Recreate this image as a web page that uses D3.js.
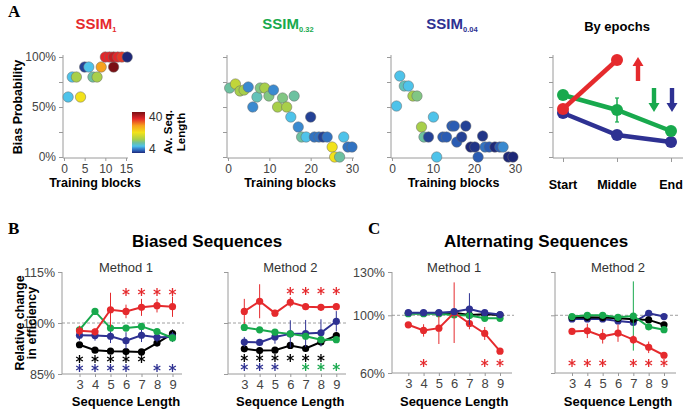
<!DOCTYPE html>
<html><head><meta charset="utf-8">
<script src="https://cdn.jsdelivr.net/npm/d3@7"></script>
<style>
body{margin:0;background:#fff;}
svg{font-family:"Liberation Sans",Arial,sans-serif;}
</style></head><body>
<svg id="c" width="685" height="409"></svg>
<script>
// ---------- DATA ----------
// Panel A scatter: training block, bias probability (%), average sequence length (colour)
const a1Block = [1,4,2,3,5,6,7,8,9,12,10,11,12,13,14,15.3];
const a1Bias  = [60,60,80,80,90,90,80,80,90,90,100,100,100,100,100,100];
const a1Len   = [10,22,10,16,5,10,13,16,28,40,34,34,36,34,33,4];

const a2Block = [0.4,1.8,2.9,3.9,4.9,6,7,7.8,8.9,9.9,11,12,13.2,14.2,16,15.2,17,17.8,18.9,20,20.9,22,23,24,25.2,25.8,27,28,29,30];
const a2Bias  = [69,73,66,67,70,50,60,69,69,61,67,50,59,50,61,40,30,20,20,40,20,20,20,20,10,0,0,20,10,10];
const a2Len   = [13,18,16,16,8,8,12,14,16,14,8,16,14,16,13,10,8,13,10,5,7,7,5,7,22,22,13,10,7,7];

const a3Block = [1.9,3,4,5.1,6.1,1.1,10.1,7.2,7.8,8.9,10.9,12.4,13.3,14.6,15.2,15.8,17,18,19.2,20.2,21,22.1,22.7,23.7,25.1,26.3,27.1,28.4,29.5];
const a3Bias  = [81,71,71,61,61,51,40,30,20,20,0,20,20,31,31,15,20,31,10,10,0,21,10,10,10,10,10,0,0];
const a3Len   = [10,12,10,16,14,10,10,16,13,5,10,6,6,6,6,6,5,5,4,4.5,6,4.5,7,6,4,6,8,4,4];

// Panel A "By epochs"
const epochs = ["Start","Middle","End"];
const epochRed      = [48,97,null];
const epochRedErr   = [3,4,null];
const epochGreen    = [62,47,26];
const epochGreenErr = [3,12,1.5];
const epochBlue     = [44,22,15];
const epochBlueErr  = [1.5,1.5,1.5];

// Panels B & C
const seqLen = [3,4,5,6,7,8,9];

const b1Red      = [97.7,97.4,103.9,103.4,104.6,105.1,104.8];
const b1RedErr   = [1.5,1,5,2,2.5,2,3];
const b1Green    = [98.0,103.4,98.5,98.5,99.0,97.5,95.6];
const b1GreenErr = [0.5,0.5,0.5,0.5,0.5,0.5,1];
const b1Blue     = [96.4,96.3,96.1,94.8,96.4,95.8,95.9];
const b1BlueErr  = [1.5,1.5,2,2.5,2,1.5,1.5];
const b1Black    = [93.6,92.0,91.7,91.6,91.5,94.1,96.9];
const b1BlackErr = [0.5,0.5,0.5,0.5,0.5,0.8,1.2];
const b1StarsBlack = [3,4,5,6,7];
const b1StarsBlue  = [3,4,5,6,8,9];
const b1StarsRed   = [6,7,8,9];
const b1StarsGreen = [];

const b2Red      = [103.4,106.4,102.9,106.1,104.8,104.6,104.8];
const b2RedErr   = [3.7,5,1,1.5,1,1,1];
const b2Green    = [98.7,98.0,97.3,96.8,96.1,95.1,95.1];
const b2GreenErr = [0.5,0.5,0.5,0.5,0.5,0.5,0.5];
const b2Blue     = [94.4,94.3,95.9,96.8,96.9,97.1,100.5];
const b2BlueErr  = [1.5,1,2,4,4,4,3];
const b2Black    = [92.4,91.9,92.0,93.4,92.5,94.4,96.3];
const b2BlackErr = [0.5,0.5,0.5,0.8,0.8,0.8,1];
const b2StarsBlack = [3,4,5,6,7,8];
const b2StarsBlue  = [3,4,5];
const b2StarsRed   = [6,7,8,9];
const b2StarsGreen = [7,8,9];

const c1Red      = [93.4,89.5,91.1,101.8,94.3,87.4,75.1];
const c1RedErr   = [1,4.3,11,21,4,4.5,1];
const c1Green    = [101.1,101.1,101.1,100.2,99.8,97.9,97.9];
const c1GreenErr = [0.5,0.5,0.5,0.5,0.5,0.5,0.5];
const c1Blue     = [101.8,101.8,101.8,102.5,104.3,101.8,100.5];
const c1BlueErr  = [1,1,1,1,11,1,1];
const c1Black    = [101.4,101.4,101.4,101.8,100.2,100.7,100.2];
const c1BlackErr = [0.5,0.5,0.5,0.5,0.5,0.5,0.5];
const c1StarsRed = [4,8,9];

const c2Red      = [88.8,89.2,85.4,87.6,83.1,77.8,72.3];
const c2RedErr   = [2,5,5,6,3,4,2];
const c2Green    = [99.1,100,100,98.6,99.5,92,90];
const c2GreenErr = [0.5,0.5,0.5,0.5,24,0.5,0.5];
const c2Blue     = [97.5,97.5,97.5,96.1,95,101.4,99.1];
const c2BlueErr  = [0.8,0.8,0.8,0.8,0.8,0.8,0.8];
const c2Black    = [98.4,98.6,98.4,97.9,97.3,96.8,93.4];
const c2BlackErr = [0.5,0.5,0.5,0.5,0.5,0.5,0.5];
const c2StarsRed = [3,4,5,7,8,9];

// ---------- STYLE ----------
const RED = "#e52a2d", GREEN = "#18a94d", BLUE = "#2e3192", BLACK = "#000";
const AXIS = "#9a9a9a", TICKTXT = "#444";
const jetDomain = [4,6,8,10,13,16,22,28,34,40];
const jetRange  = ["#1e2878","#2a5cb3","#3a8ad0","#4ec3ea","#6dc1a0","#a8cf4a","#f2e21a","#f7a21e","#e3262a","#7a0f14"];
const lenColor = d3.scaleLinear().domain(jetDomain).range(jetRange).clamp(true);

const svg = d3.select("#c");

function txt(x,y,s,opt={}){
  const t = svg.append("text").attr("x",x).attr("y",y).text(s)
    .attr("font-size",opt.size||12).attr("fill",opt.fill||"#000")
    .attr("font-weight",opt.weight||"normal")
    .attr("text-anchor",opt.anchor||"middle");
  if(opt.family) t.attr("font-family",opt.family);
  if(opt.rotate) t.attr("transform",`rotate(${opt.rotate},${x},${y})`);
  return t;
}

// ---------- PANEL A ----------
const aTop = 57, aBot = 157;
const yA = d3.scaleLinear().domain([0,100]).range([aBot,aTop]);

function scatterPanel(x0, x1, dom, ticks, blocks, bias, lens, showY){
  const x = d3.scaleLinear().domain(dom).range([x0, x1]);
  const g = svg.append("g");
  const ya = g.append("g").attr("transform",`translate(${x0-1},0)`)
    .call(d3.axisLeft(yA).tickValues([0,25,50,75,100]).tickSize(4)
      .tickFormat(d => showY && d%50===0 ? d+"%" : ""));
  const xa = g.append("g").attr("transform",`translate(0,${aBot+1})`)
    .call(d3.axisBottom(x).tickValues(ticks).tickSize(3));
  [ya,xa].forEach(a=>{
    a.selectAll("path,line").attr("stroke",AXIS);
    a.selectAll("text").attr("font-size",12).attr("fill",TICKTXT).attr("font-family","Liberation Sans, Arial, sans-serif");
  });
  xa.select(".domain").attr("d",`M${x0-1},0H${x1+2}`);
  ya.select(".domain").attr("d",`M0,${aBot+1}V${aTop-2}`);
  const pts = blocks.map((b,i)=>({b, v:bias[i], l:lens[i]}));
  g.selectAll("circle").data(pts).enter().append("circle")
    .attr("cx",d=>x(d.b)).attr("cy",d=>yA(d.v)).attr("r",5.2)
    .attr("fill",d=>lenColor(d.l)).attr("stroke","#6a6a6a").attr("stroke-width",0.5);
  txt((x0+x1)/2, 187, "Training blocks", {weight:"bold", size:12.5});
}

scatterPanel(64,126,[0,15],[0,5,10,15],a1Block,a1Bias,a1Len,true);
scatterPanel(228,352,[0,30],[0,10,20,30],a2Block,a2Bias,a2Len,false);
scatterPanel(392,515,[0,30],[0,10,20,30],a3Block,a3Bias,a3Len,false);

// titles
function ssimTitle(cx, sub, color){
  const t = svg.append("text").attr("x",cx).attr("y",29).attr("text-anchor","middle")
    .attr("font-size",15).attr("font-weight","bold").attr("fill",color);
  t.append("tspan").text("SSIM");
  t.append("tspan").text(sub).attr("font-size",7.5).attr("dy",3);
}
ssimTitle(96,"1",RED);
ssimTitle(288,"0.32",GREEN);
ssimTitle(452,"0.04",BLUE);
txt(617,31,"By epochs",{weight:"bold",size:13});
txt(22,107,"Bias Probability",{weight:"bold",size:12.5,rotate:-90});
txt(8,17,"A",{weight:"bold",size:17,family:"Liberation Serif, serif",anchor:"start"});

// colour bar
const defs = svg.append("defs");
const grad = defs.append("linearGradient").attr("id","jet").attr("x1",0).attr("y1",1).attr("x2",0).attr("y2",0);
jetDomain.forEach((d,i)=>grad.append("stop").attr("offset",(d-4)/36).attr("stop-color",jetRange[i]));
svg.append("rect").attr("x",132).attr("y",112).attr("width",13).attr("height",41).attr("fill","url(#jet)");
txt(149,121,"40",{anchor:"start",size:12,fill:"#333"});
txt(149,153,"4",{anchor:"start",size:12,fill:"#333"});
txt(172,132,"Av. Seq.",{weight:"bold",size:11.5,rotate:-90});
txt(185,132,"Length",{weight:"bold",size:11.5,rotate:-90});

// By epochs panel
(function(){
  const x = d3.scalePoint().domain(epochs).range([563,671]);
  const g = svg.append("g");
  const ya = g.append("g").attr("transform",`translate(553,0)`)
    .call(d3.axisLeft(yA).tickValues([0,25,50,75,100]).tickSize(4).tickFormat(""));
  const xa = g.append("g").attr("transform",`translate(0,${aBot+1})`)
    .call(d3.axisBottom(x).tickSize(4).tickFormat(""));
  [ya,xa].forEach(a=>a.selectAll("path,line").attr("stroke",AXIS));
  xa.select(".domain").attr("d",`M553,0H683`);
  ya.select(".domain").attr("d",`M0,${aBot+1}V${aTop-2}`);
  epochs.forEach(e=>txt(x(e),189,e,{weight:"bold",size:12.5}));
  const series = [[epochBlue,epochBlueErr,BLUE],[epochGreen,epochGreenErr,GREEN],[epochRed,epochRedErr,RED]];
  series.forEach(([vals,errs,col])=>{
    const pts = epochs.map((e,i)=>({e,v:vals[i],s:errs[i]})).filter(d=>d.v!=null);
    g.append("path").datum(pts).attr("fill","none").attr("stroke",col).attr("stroke-width",4.5)
      .attr("d",d3.line().x(d=>x(d.e)).y(d=>yA(d.v)));
    pts.forEach(d=>{
      g.append("line").attr("x1",x(d.e)).attr("x2",x(d.e)).attr("y1",yA(d.v-d.s)).attr("y2",yA(d.v+d.s)).attr("stroke",col).attr("stroke-width",1.5);
      g.append("line").attr("x1",x(d.e)-2).attr("x2",x(d.e)+2).attr("y1",yA(d.v-d.s)).attr("y2",yA(d.v-d.s)).attr("stroke",col).attr("stroke-width",1.2);
      g.append("line").attr("x1",x(d.e)-2).attr("x2",x(d.e)+2).attr("y1",yA(d.v+d.s)).attr("y2",yA(d.v+d.s)).attr("stroke",col).attr("stroke-width",1.2);
    });
    g.selectAll(null).data(pts).enter().append("circle")
      .attr("cx",d=>x(d.e)).attr("cy",d=>yA(d.v)).attr("r",6).attr("fill",col);
  });
  // arrows
  function arrow(cx, yBase, yTip, col){
    const dir = yTip < yBase ? -1 : 1;
    const hl = 9, hw = 5.5, sw = 2.2;
    const yNeck = yTip - dir*hl;
    g.append("path").attr("fill",col).attr("d",
      `M${cx-sw},${yBase}L${cx-sw},${yNeck}L${cx-hw},${yNeck}L${cx},${yTip}L${cx+hw},${yNeck}L${cx+sw},${yNeck}L${cx+sw},${yBase}Z`);
  }
  arrow(638,81,57,RED);
  arrow(654,88,112,GREEN);
  arrow(672,88,112,BLUE);
})();

// ---------- PANELS B & C ----------
const starSym = d3.symbol().type(d3.symbolAsterisk).size(42);
function linePanel(o){
  const x = d3.scaleLinear().domain([3,9]).range([o.xs0,o.xs1]);
  const y = d3.scaleLinear().domain(o.ydom).range([o.yb,o.yt]);
  const g = svg.append("g");
  const ya = g.append("g").attr("transform",`translate(${o.ax},0)`)
    .call(d3.axisLeft(y).tickValues(o.yticks).tickSize(4).tickFormat(d=>o.showY? d+"%":""));
  const xa = g.append("g").attr("transform",`translate(0,${o.yb})`)
    .call(d3.axisBottom(x).tickValues(seqLen).tickSize(3).tickFormat(d3.format("d")));
  [ya,xa].forEach(a=>{
    a.selectAll("path,line").attr("stroke",AXIS);
    a.selectAll("text").attr("font-size",13).attr("fill",TICKTXT).attr("font-family","Liberation Sans, Arial, sans-serif");
  });
  ya.selectAll("text").attr("font-size",12.5);
  xa.select(".domain").attr("d",`M${o.ax},0H${o.axEnd}`);
  ya.select(".domain").attr("d",`M0,${o.yb}V${o.yt}`);
  g.append("line").attr("x1",o.ax).attr("x2",o.axEnd+2).attr("y1",y(100)).attr("y2",y(100))
    .attr("stroke","#888").attr("stroke-width",0.8).attr("stroke-dasharray","3,2");
  o.series.forEach(([vals,errs,col])=>{
    const pts = seqLen.map((s,i)=>({s,v:vals[i],e:errs[i]}));
    pts.forEach(d=>g.append("line").attr("x1",x(d.s)).attr("x2",x(d.s))
      .attr("y1",y(d.v-d.e)).attr("y2",y(d.v+d.e)).attr("stroke",col).attr("stroke-width",1));
    g.append("path").datum(pts).attr("fill","none").attr("stroke",col).attr("stroke-width",2)
      .attr("d",d3.line().x(d=>x(d.s)).y(d=>y(d.v)));
    g.selectAll(null).data(pts).enter().append("circle")
      .attr("cx",d=>x(d.s)).attr("cy",d=>y(d.v)).attr("r",3.6).attr("fill",col);
  });
  o.stars.forEach(([list,col,yy])=>{
    g.selectAll(null).data(list).enter().append("path")
      .attr("d",starSym).attr("transform",s=>`translate(${x(s)},${yy})`)
      .attr("fill","none").attr("stroke",col).attr("stroke-width",1.3);
  });
  txt((o.xs0+o.xs1)/2, 272, o.title, {size:13, fill:"#333"});
  txt((o.xs0+o.xs1)/2, 406, "Sequence Length", {size:13, weight:"bold"});
}

linePanel({ax:62,axEnd:182,xs0:79.5,xs1:172.5,yt:272,yb:374,ydom:[85,115],yticks:[85,100,115],showY:true,title:"Method 1",
  series:[[b1Black,b1BlackErr,BLACK],[b1Blue,b1BlueErr,BLUE],[b1Green,b1GreenErr,GREEN],[b1Red,b1RedErr,RED]],
  stars:[[b1StarsRed,RED,292],[b1StarsBlack,BLACK,359],[b1StarsBlue,BLUE,368],[b1StarsGreen,GREEN,368]]});
linePanel({ax:228,axEnd:346,xs0:244.3,xs1:336.3,yt:272,yb:374,ydom:[85,115],yticks:[85,100,115],showY:false,title:"Method 2",
  series:[[b2Black,b2BlackErr,BLACK],[b2Blue,b2BlueErr,BLUE],[b2Green,b2GreenErr,GREEN],[b2Red,b2RedErr,RED]],
  stars:[[b2StarsRed,RED,291],[b2StarsBlack,BLACK,358],[b2StarsBlue,BLUE,367],[b2StarsGreen,GREEN,367]]});
linePanel({ax:392,axEnd:512,xs0:408.3,xs1:500,yt:272,yb:373,ydom:[60,130],yticks:[60,100,130],showY:true,title:"Method 1",
  series:[[c1Black,c1BlackErr,BLACK],[c1Green,c1GreenErr,GREEN],[c1Red,c1RedErr,RED],[c1Blue,c1BlueErr,BLUE]],
  stars:[[c1StarsRed,RED,363]]});
linePanel({ax:555,axEnd:676,xs0:572,xs1:664,yt:272,yb:373,ydom:[60,130],yticks:[60,100,130],showY:false,title:"Method 2",
  series:[[c2Blue,c2BlueErr,BLUE],[c2Black,c2BlackErr,BLACK],[c2Green,c2GreenErr,GREEN],[c2Red,c2RedErr,RED]],
  stars:[[c2StarsRed,RED,363]]});

txt(207,247,"Biased Sequences",{weight:"bold",size:17});
txt(536,247,"Alternating Sequences",{weight:"bold",size:17});
txt(8,234,"B",{weight:"bold",size:17,family:"Liberation Serif, serif",anchor:"start"});
txt(368,234,"C",{weight:"bold",size:17,family:"Liberation Serif, serif",anchor:"start"});
txt(24,323,"Relative change",{weight:"bold",size:12.5,rotate:-90});
txt(36,323,"in efficiency",{weight:"bold",size:12.5,rotate:-90});
</script></body></html>
